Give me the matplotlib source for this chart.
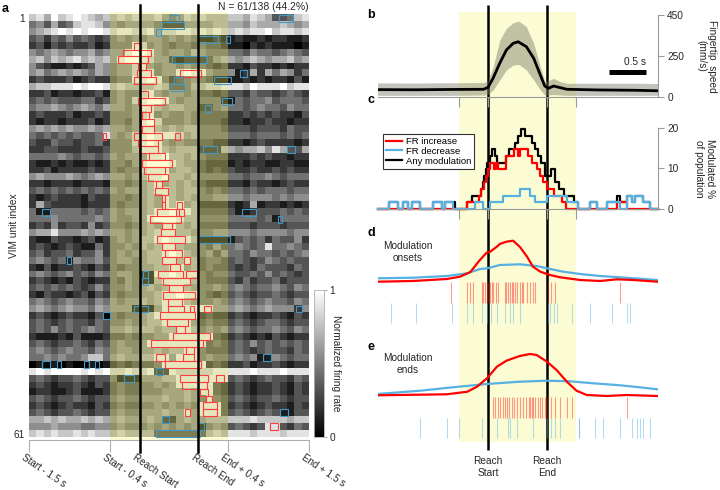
import numpy as np
import matplotlib
matplotlib.use("Agg")
import matplotlib.pyplot as plt
from matplotlib.patches import Rectangle
from matplotlib.lines import Line2D

plt.rcParams['font.family'] = ['Liberation Sans', 'DejaVu Sans']
plt.rcParams['font.size'] = 7.3

# ---------------- panel a: normalized firing rate per unit ----------------
# one string per unit, 38 bins of 0.1 (display units), digits 0-9 -> 0..1
# groups: pre (11) | start-0.4 (4) | reach (8) | end+0.4 (4) | post (11)
heat_rows = [
    "78697898767 6767 66754576 7666 77687633478",
    "45363478875 5455 55422255 5566 66576667656",
    "56789898998 7887 78577887 8787 78788978878",
    "34243534323 4545 45545454 1121 12112122112",
    "23132322312 4448 74543443 4332 11021211101",
    "54565455645 5589 98545546 5444 44354434543",
    "67576786767 5899 87552122 2356 65676566756",
    "53211212365 4557 85455454 4323 22132212122",
    "56456565465 4557 88455898 8544 51262646524",
    "23222312322 3448 89842345 4311 11212122131",
    "67788898998 6766 66763346 6778 88798889788",
    "22312212231 4544 78545545 3323 33243323432",
    "34343334423 4547 89985455 4441 14344534443",
    "45565456546 5545 88656655 2245 44345443544",
    "23222312232 4445 78454454 3333 22323232213",
    "21221222312 4435 89744454 3332 22122322122",
    "56565655656 5545 88656566 4443 33323332433",
    "43434343348 5457 89888756 4444 44434443434",
    "32243323342 4447 89854544 3322 22123222212",
    "22332223223 4446 88865666 2226 65667586336",
    "44445434434 5455 58896656 4333 22232322122",
    "21121211212 4435 89998655 3222 12122112211",
    "22312222322 4344 78885665 3232 32232232322",
    "56555654565 5545 68896656 4444 44344543444",
    "22122212221 4434 56856565 3222 22132212322",
    "34343434343 5455 56886566 4343 44343444344",
    "21232221322 4434 56586565 4455 55455545455",
    "26322221222 4344 56586856 2222 21261221212",
    "41144443434 5455 56889886 3333 31123334343",
    "44454444454 5445 58999866 4444 44443414444",
    "23252332523 4434 56588656 3333 33323332333",
    "56685556565 5545 56788665 4455 55545555455",
    "21132212312 4545 66898886 1111 13434243352",
    "23212321142 4454 65688655 4353 45434844543",
    "34233423352 4545 56689865 4535 44354434345",
    "45434154453 4554 56688686 3443 34323543433",
    "21312232132 4344 55668856 3433 32324333243",
    "45434534354 4554 11889888 4344 43343534323",
    "23212132122 4354 11688886 4333 32423342333",
    "34343432353 4454 56568865 4454 45434454354",
    "21322123132 4344 55688988 4323 34323343233",
    "45434544354 5455 65688865 4454 45434544354",
    "56545655465 5551 11588888 8855 56545655525",
    "23212322130 4344 56888888 2322 23212232132",
    "34323433243 4454 56688885 3433 34323443233",
    "34353434543 5565 66566886 4545 45434454354",
    "21112131112 3343 44558888 8832 23212132122",
    "34323343243 4544 58888888 8343 34353434343",
    "45434544354 4554 55656688 4333 34323433243",
    "44545445774 5655 66885888 4544 45451154344",
    "01010100101 2323 33488888 8232 22312232122",
    "89899998989 7787 78228777 7788 88898889888",
    "34323343233 4111 55566888 8888 34323433243",
    "23212232132 3433 44545888 8832 23212232132",
    "12211231112 3433 44455565 8832 23212232132",
    "34323343233 4544 55565565 4843 34323343233",
    "23212322132 3433 44545454 8883 23212322132",
    "34323343233 4544 55565585 8883 34323431133",
    "66767667676 5655 56522565 5666 77787777677",
    "55565554455 4544 45454545 1454 34323883243",
    "78787787877 6766 66333333 3676 88878887888",
]

# significant increase / decrease windows (unit, start, end) in display units
inc_rows = [5, 6, 7, 8, 9, 9, 10, 12, 13, 14, 15, 16, 17, 18, 18, 18, 19, 20, 21, 22,
            23, 24, 25, 26, 27, 28, 28, 29, 29, 30, 31, 32, 33, 34, 35, 36, 36, 37,
            38, 38, 39, 40, 41, 42, 43, 43, 43, 44, 45, 46, 47, 48, 49, 50, 50, 51,
            53, 53, 54, 55, 56, 57, 58, 58, 60]
inc_start = [1.425, 1.28, 1.21, 1.48, 1.46, 2.05, 1.42, 1.51, 1.48, 1.52, 1.54, 1.52, 1.54,
             1.43, 1.0, 1.98, 1.48, 1.49, 1.63, 1.53, 1.56, 1.61, 1.73, 1.71, 1.80, 1.80,
             2.01, 1.74, 2.04, 1.64, 1.81, 1.79, 1.74, 1.80, 1.84, 1.80, 2.11, 1.91, 1.75,
             2.13, 1.82, 1.90, 1.82, 1.89, 1.89, 2.18, 2.38, 1.78, 1.87, 2.0, 1.95, 1.66,
             2.13, 1.73, 2.09, 1.85, 2.05, 2.54, 2.07, 2.32, 2.40, 2.36, 2.36, 2.12, 3.27]
inc_end = [1.525, 1.65, 1.62, 1.59, 1.65, 2.34, 1.73, 1.61, 1.85, 1.66, 1.63, 1.70, 1.69,
           1.81, 1.05, 2.05, 1.75, 1.75, 1.85, 1.94, 1.85, 1.88, 1.80, 1.88, 1.85, 1.85,
           2.07, 2.0, 2.11, 2.06, 1.94, 1.98, 2.12, 1.98, 2.07, 2.0, 2.19, 2.05, 2.09,
           2.28, 2.19, 2.09, 2.25, 2.07, 2.10, 2.24, 2.47, 2.25, 2.16, 2.12, 2.45, 2.36,
           2.24, 1.85, 2.24, 2.33, 2.43, 2.65, 2.41, 2.43, 2.49, 2.55, 2.55, 2.18, 3.38]
dec_rows = [1, 1, 2, 3, 4, 4, 7, 9, 10, 10, 11, 13, 14, 20, 20, 29, 29, 30, 33, 36, 38,
            39, 43, 43, 44, 50, 51, 51, 51, 51, 52, 53, 58, 59, 60, 61]
dec_start = [1.92, 3.39, 1.81, 1.73, 2.30, 2.67, 1.94, 2.87, 1.97, 2.51, 1.93, 2.62, 2.39,
             2.36, 3.50, 0.17, 2.89, 3.38, 2.31, 0.51, 1.55, 1.54, 1.42, 3.62, 1.0, 3.17,
             0.18, 0.38, 0.74, 0.90, 1.72, 1.29, 3.41, 1.81, 2.30, 1.72]
dec_end = [2.03, 3.58, 2.11, 1.79, 2.56, 2.73, 2.42, 2.96, 2.07, 2.74, 2.11, 2.75, 2.47,
           2.55, 3.61, 0.28, 3.08, 3.44, 2.73, 0.57, 1.62, 1.61, 1.62, 3.70, 1.10, 3.29,
           0.28, 0.43, 0.81, 0.95, 1.82, 1.42, 3.52, 1.90, 2.37, 2.32]

tick_pos = [0, 1.1, 1.5, 2.3, 2.7, 3.8]
tick_labels = ['Start - 1.5 s', 'Start - 0.4 s', 'Reach Start', 'Reach End',
               'End + 0.4 s', 'End + 1.5 s']

# ---------------- panel b: fingertip speed (mm/s) ----------------
speed_t = [-1.5, -1.0, -0.5, -0.06, 0.0, 0.07, 0.16, 0.25, 0.34, 0.41, 0.43, 0.52,
           0.62, 0.71, 0.77, 0.82, 0.89, 0.98, 1.07, 1.5, 2.0, 2.3]
speed_mean = [45, 44, 46, 47, 59, 116, 207, 287, 327, 337, 331, 307, 236, 134, 67, 53,
              67, 57, 47, 43, 41, 38]
speed_hi = [86, 85, 87, 88, 100, 185, 348, 419, 453, 462, 459, 429, 327, 185, 93, 100,
            114, 93, 84, 84, 84, 82]
speed_lo = [10, 10, 10, 12, 15, 43, 104, 165, 195, 198, 195, 165, 104, 43, 12, 12, 15,
            12, 10, 10, 10, 10]

# ---------------- panel c: % of population modulated ----------------
inc_t = [-1.5, -0.29, -0.12, -0.09, -0.06, -0.03, 0.0, 0.03, 0.08, 0.11, 0.14, 0.25,
         0.35, 0.4, 0.44, 0.54, 0.6, 0.66, 0.7, 0.75, 0.8, 0.9, 1.0, 1.06, 1.75, 1.88, 2.3]
inc_pct = [0, 1.64, 3.28, 4.92, 6.56, 8.2, 9.84, 11.48, 9.84, 11.48, 9.84, 13.11, 14.75,
           13.11, 14.75, 13.11, 11.48, 9.84, 8.2, 6.56, 4.92, 3.28, 1.64, 0, 1.64, 0, 0]
dec_t = [-1.5, -1.34, -1.22, -1.15, -1.08, -1.03, -0.92, -0.75, -0.62, -0.58, -0.48,
         -0.18, -0.07, 0.03, 0.2, 0.43, 0.57, 0.64, 0.8, 1.07, 1.22, 1.38, 1.48, 1.62,
         1.79, 1.88, 1.95, 2.0, 2.1, 2.2, 2.3]
dec_pct = [0, 1.64, 0, 1.64, 0, 1.64, 0, 1.64, 0, 1.64, 0, 1.64, 0, 1.64, 3.28, 4.92,
           3.28, 1.64, 3.28, 1.64, 0, 1.64, 0, 1.64, 0, 3.28, 1.64, 3.28, 1.64, 0, 0]
any_t = [-1.5, -1.34, -1.22, -1.15, -1.08, -1.03, -0.92, -0.75, -0.62, -0.58, -0.45,
         -0.29, -0.22, -0.1, -0.07, -0.05, -0.03, -0.01, 0.02, 0.05, 0.09, 0.12, 0.25,
         0.29, 0.37, 0.41, 0.45, 0.5, 0.59, 0.64, 0.68, 0.72, 0.77, 0.85, 0.91, 0.96,
         1.03, 1.17, 1.22, 1.38, 1.48, 1.62, 1.75, 1.79, 1.88, 1.95, 2.0, 2.1, 2.2, 2.3]
any_pct = [0, 1.64, 0, 1.64, 0, 1.64, 0, 1.64, 0, 1.64, 0, 1.64, 3.28, 4.92, 6.56, 8.2,
           9.84, 11.48, 13.11, 14.75, 13.11, 11.48, 13.11, 14.75, 16.39, 18.03, 19.67,
           18.03, 16.39, 14.75, 13.11, 11.48, 8.2, 9.84, 6.56, 4.92, 3.28, 1.64, 0, 1.64,
           0, 1.64, 3.28, 1.64, 3.28, 1.64, 3.28, 1.64, 0, 0]

# ---------------- panels d, e: onset / end densities and rasters ----------------
on_inc_t = [-1.5, -1.02, -0.56, -0.38, -0.24, -0.11, -0.02, 0.03, 0.12, 0.16, 0.25, 0.34,
            0.43, 0.53, 0.61, 0.71, 0.84, 0.98, 1.25, 1.52, 1.75, 1.97, 2.3]
on_inc_d = [1.3, 2, 4, 6.3, 11, 23, 30.3, 31.3, 36.3, 39, 41.3, 42.3, 36.3, 26.3, 16.3,
            11.3, 8, 5.7, 3, 2, 3.7, 3, 1.3]
on_dec_t = [-1.5, -1.02, -0.56, -0.28, -0.11, -0.01, 0.16, 0.43, 0.66, 0.8, 1.02, 1.25,
            1.52, 1.79, 2.06, 2.3]
on_dec_d = [4.7, 5.3, 7, 9.7, 14, 14.7, 18, 18.7, 17, 14.7, 11.3, 9, 7, 5.7, 4.3, 3]
end_inc_t = [-1.5, -0.56, -0.28, -0.15, -0.01, 0.12, 0.25, 0.43, 0.57, 0.66, 0.8, 0.93,
             1.07, 1.2, 1.34, 1.61, 1.88, 2.3]
end_inc_d = [2.7, 3.7, 6.3, 11.3, 20, 31.3, 37.3, 42, 44, 43, 36.3, 28, 16.3, 7.3, 3, 2,
             3, 2]
end_dec_t = [-1.5, -0.92, -0.48, -0.02, 0.43, 0.8, 1.11, 1.43, 1.79, 2.06, 2.3]
end_dec_d = [4, 7.3, 10.7, 14, 16.3, 17.3, 16.7, 14.7, 12.7, 10.7, 8.7]

onsets_inc = [-0.50, -0.29, -0.24, -0.20, -0.085, -0.064, -0.04, -0.018, 0.004, 0.027,
              0.05, 0.072, 0.11, 0.14, 0.23, 0.25, 0.275, 0.30, 0.32, 0.34, 0.37, 0.39,
              0.43, 0.46, 0.48, 0.525, 0.57, 0.61, 0.64, 0.82, 0.86, 0.91, 1.79]
onsets_dec = [-1.32, -0.98, -0.49, -0.29, -0.20, -0.085, -0.018, 0.04, 0.12, 0.23, 0.30,
              0.34, 0.43, 0.82, 0.84, 0.89, 0.93, 1.14, 1.38, 1.68, 1.88, 1.92]
ends_inc = [0.072, 0.095, 0.14, 0.16, 0.20, 0.23, 0.26, 0.29, 0.32, 0.35, 0.39, 0.43,
            0.47, 0.52, 0.55, 0.57, 0.59, 0.61, 0.64, 0.68, 0.71, 0.73, 0.77, 0.80, 0.86,
            0.91, 0.98, 1.07, 1.14, 1.88]
ends_dec = [-0.92, -0.56, -0.40, -0.085, 0.12, 0.275, 0.30, 0.39, 0.61, 0.80, 0.86, 0.91,
            0.98, 1.23, 1.24, 1.45, 1.56, 1.79, 1.95, 2.02, 2.06, 2.10, 2.20]

RED = '#ff1414'
BOX_RED = '#ff3c3c'
BLUE = '#56b1e3'
BOX_BLUE = '#3f98c8'
YELLOW = (0.96, 0.96, 0.33)
GRAY = '#9a9a9a'
TXT = '#262626'

fig = plt.figure(figsize=(7.2, 4.9), dpi=100)


def px_axes(x0, y0, x1, y1):
    return fig.add_axes([x0 / 720, 1 - y1 / 490, (x1 - x0) / 720, (y1 - y0) / 490])


def right_axis(ax, ticks, labels, ylabel, pad):
    for s in ['left', 'top']:
        ax.spines[s].set_visible(False)
    for s in ['right', 'bottom']:
        ax.spines[s].set_color(GRAY)
        ax.spines[s].set_linewidth(0.8)
    ax.patch.set_visible(False)
    ax.yaxis.tick_right()
    ax.yaxis.set_label_position('right')
    ax.set_yticks(ticks)
    ax.set_yticklabels(labels)
    ax.set_xticks([-0.4, 0, 0.8, 1.2])
    ax.set_xticklabels([])
    ax.tick_params(axis='y', length=4, color=GRAY, labelcolor=TXT, pad=3)
    ax.tick_params(axis='x', length=7, color=GRAY)
    ax.set_ylabel(ylabel, rotation=270, labelpad=pad, color=TXT, linespacing=1.1)
    ax.set_xlim(-1.5, 2.3)


# ---- a ----
heat = np.array([[int(c) for c in r.replace(' ', '')] for r in heat_rows]) / 9.0
ax_a = px_axes(29, 12, 309, 440)
im = ax_a.imshow(heat, cmap='gray', vmin=0, vmax=1, aspect='auto',
                 interpolation='nearest', extent=(0, 3.8, 61.5, 0.5))
ax_a.set_xlim(0, 3.8)
ax_a.set_ylim(61.93, 0.07)
ax_a.axvspan(1.1, 2.7, color=YELLOW, alpha=0.25, lw=0, zorder=2)
for r, a, b in zip(inc_rows, inc_start, inc_end):
    ax_a.add_patch(Rectangle((a, r - 0.5), b - a, 1, fill=False, ec=BOX_RED, lw=0.8, zorder=3))
for r, a, b in zip(dec_rows, dec_start, dec_end):
    ax_a.add_patch(Rectangle((a, r - 0.5), b - a, 1, fill=False, ec=BOX_BLUE, lw=0.8, zorder=3))
for x in [1.5, 2.3]:
    ax_a.axvline(x, ymin=-0.028, ymax=1.016, color='black', lw=1.8, clip_on=False, zorder=4)
for s in ['left', 'top', 'right']:
    ax_a.spines[s].set_visible(False)
ax_a.spines['bottom'].set_color('#b0b0b0')
ax_a.spines['bottom'].set_linewidth(0.8)
ax_a.set_xticks(tick_pos)
ax_a.set_xticklabels([])
ax_a.tick_params(axis='x', length=8.6, color='#b0b0b0', width=0.8)
for p, lab in zip(tick_pos, tick_labels):
    ax_a.annotate(lab, xy=(p, 0), xycoords=('data', 'axes fraction'), xytext=(-4.3, -11.8),
                  textcoords='offset points', rotation=-34, ha='left', va='center',
                  rotation_mode='anchor', color=TXT, fontsize=7.1)
ax_a.set_yticks([1, 61])
ax_a.set_yticklabels(['1', '61'], color=TXT)
ax_a.tick_params(axis='y', length=0, pad=3)
ax_a.text(-0.055, 0.5, 'VIM unit index', transform=ax_a.transAxes, rotation=90,
          ha='center', va='center', color=TXT)
ax_a.text(1.0, 1.0, 'N = 61/138 (44.2%)', transform=ax_a.transAxes, ha='right',
          va='bottom', color=TXT, fontsize=7.5)
fig.text(5.5 / 720, 1 - 9 / 490, 'a', fontweight='bold', fontsize=9, ha='center', va='center')

cax = px_axes(314, 290, 324, 437)
cb = fig.colorbar(im, cax=cax, ticks=[0, 1])
cb.outline.set_edgecolor('#b0b0b0')
cb.outline.set_linewidth(0.6)
cb.ax.tick_params(length=2, color='#b0b0b0', labelcolor=TXT, pad=2)
cb.ax.set_yticklabels(['0', '1'])
cax.text(2.2, 0.5, 'Normalized firing rate', transform=cax.transAxes, rotation=270,
         ha='center', va='center', color=TXT)

# ---- right column background: reach window and events ----
ax_bg = px_axes(377.5, 0, 657.5, 490)
ax_bg.set_xlim(-1.5, 2.3)
ax_bg.set_ylim(490, 0)
ax_bg.axis('off')
ax_bg.axvspan(-0.4, 1.2, ymin=48 / 490, ymax=478 / 490, color=YELLOW, alpha=0.25, lw=0)
ax_bg.vlines([0, 0.8], 5, 450, color='black', lw=1.8)
ax_bg.text(0, 467, 'Reach\nStart', ha='center', va='center', color=TXT, linespacing=1.3)
ax_bg.text(0.8, 467, 'Reach\nEnd', ha='center', va='center', color=TXT, linespacing=1.3)

# ---- b ----
ax_b = px_axes(377.5, 15, 657.5, 97)
ax_b.fill_between(speed_t, speed_lo, speed_hi, color='#7a7a6a', alpha=0.45, lw=0)
ax_b.plot(speed_t, speed_mean, color='black', lw=2)
ax_b.set_ylim(0, 500)
right_axis(ax_b, [0, 250, 500], ['0', '250', '450'], 'Fingertip  speed\n(mm/s)', 24)
ax_b.plot([1.64, 2.14], [150, 150], color='black', lw=3.6, solid_capstyle='butt')
ax_b.text(2.14, 185, '0.5 s', ha='right', va='bottom', color=TXT)

# ---- c ----
ax_c = px_axes(377.5, 128, 657.5, 209)
ax_c.step(any_t, any_pct, where='post', color='black', lw=1.6, clip_on=False)
ax_c.step(inc_t, inc_pct, where='post', color='red', lw=1.6, clip_on=False)
ax_c.step(dec_t, dec_pct, where='post', color=BLUE, lw=1.6, clip_on=False)
ax_c.set_ylim(0, 20)
right_axis(ax_c, [0, 10, 20], ['0', '10', '20'], 'Modulated %\nof population', 26)
handles = [Line2D([], [], color='red', lw=1.6), Line2D([], [], color=BLUE, lw=1.6),
           Line2D([], [], color='black', lw=1.6)]
leg = ax_c.legend(handles, ['FR increase', 'FR decrease', 'Any modulation'],
                  loc='upper left', bbox_to_anchor=(383 / 720, 1 - 134 / 490),
                  bbox_transform=fig.transFigure, fancybox=False, framealpha=1,
                  edgecolor='#333333', borderpad=0.3, handlelength=1.7,
                  handletextpad=0.45, labelspacing=0.1, borderaxespad=0, fontsize=6.8)
leg.get_frame().set_linewidth(0.8)

# ---- d / e ----
ax_d = px_axes(377.5, 232, 657.5, 325)
ax_d.set_ylim(-42, 51)
ax_e = px_axes(377.5, 340, 657.5, 440)
ax_e.set_ylim(-42, 58)
panels = [(ax_d, on_inc_t, on_inc_d, on_dec_t, on_dec_d, onsets_inc, onsets_dec,
           'Modulation\nonsets', 31),
          (ax_e, end_inc_t, end_inc_d, end_dec_t, end_dec_d, ends_inc, ends_dec,
           'Modulation\nends', 34)]
for ax, it, idn, dt, dd, ri, rd, title, ty in panels:
    ax.set_xlim(-1.5, 2.3)
    ax.axis('off')
    ax.vlines(ri, -20, 1, color='red', alpha=0.4, lw=0.8)
    ax.vlines(rd, -40, -20, color=BLUE, alpha=0.45, lw=0.8)
    ax.plot(dt, dd, color=BLUE, lw=1.6)
    ax.plot(it, idn, color='red', lw=1.6)
    ax.text(-1.085, ty, title, ha='center', va='center', color=TXT, linespacing=1.3)

for lab, y in [('b', 15), ('c', 100), ('d', 233), ('e', 347)]:
    fig.text(371 / 720, 1 - y / 490, lab, fontweight='bold', fontsize=9, ha='center',
             va='center')

fig.savefig('out.png', dpi=100)
